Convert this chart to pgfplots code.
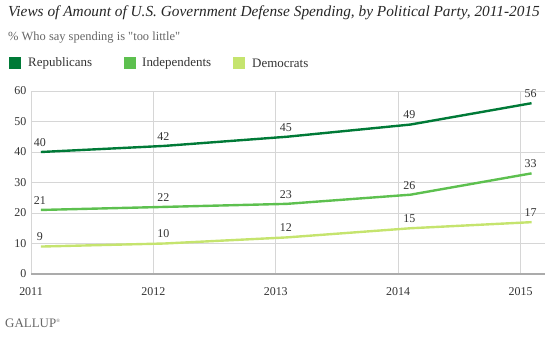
\documentclass[border=0pt]{standalone}
\usepackage{pgfplots}
\pgfplotsset{compat=1.18}
\usepackage{fontspec}
\setmainfont{Liberation Serif}
\newfontfamily\qf{Liberation Serif}[Ligatures=Common]
\definecolor{rep}{HTML}{007A37}
\definecolor{ind}{HTML}{5DC04F}
\definecolor{dem}{HTML}{C5E46E}
\definecolor{gridc}{HTML}{D6D6D6}
\definecolor{txt}{HTML}{333333}
\begin{document}
\begin{tikzpicture}[x=1bp,y=1bp]
\useasboundingbox (0,0) rectangle (552,336);
\begin{axis}[
  at={(31bp,62bp)}, anchor=south west,
  scale only axis, width=514bp, height=183bp,
  xmin=2011, xmax=2015.2, ymin=0, ymax=60,
  xtick={2011,2012,2013,2014,2015},
  ytick={0,10,20,30,40,50,60},
  grid=major, major grid style={gridc, line width=0.8pt},
  axis x line=bottom, axis y line=left,
  y axis line style={draw=none},
  x axis line style={draw=gridc!80!black, line width=1.6pt, -},
  xtick style={draw=none}, ytick style={draw=none},
  x tick label style={font=\fontsize{12}{14}\selectfont, text=txt, yshift=-8bp},
  y tick label style={font=\fontsize{12}{14}\selectfont, text=txt, xshift=1bp},
  xticklabel={\pgfmathprintnumber[1000 sep=]{\tick}},
  /pgf/number format/assume math mode=true,
  clip=false,
  every axis plot/.append style={line width=2.4pt, line join=round, mark=none},
  nodes near coords, point meta=explicit symbolic,
  every node near coord/.append style={font=\fontsize{12}{14}\selectfont, text=txt, anchor=south, xshift=-1bp, yshift=1bp},
]
\addplot[rep] table[meta=v] {
x v y
2011.08 40 40
2012.09 42 42
2013.09 45 45
2014.10 49 49
2015.09 56 56
};
\addplot[ind] table[meta=v] {
x v y
2011.08 21 21
2012.09 22 22
2013.09 23 23
2014.10 26 26
2015.09 33 33
};
\addplot[dem] table[meta=v] {
x v y
2011.08 9 9
2012.09 10 10
2013.09 12 12
2014.10 15 15
2015.09 17 17
};
\end{axis}
\node[anchor=west, inner sep=0pt, font=\fontsize{15.4}{17}\selectfont\itshape, text=black!85] at (8,323) {Views of Amount of U.S. Government Defense Spending, by Political Party, 2011-2015};
\node[anchor=west, inner sep=0pt, font=\qf\fontsize{12.5}{14}\selectfont, text=black!60] at (8,298) {\% Who say spending is "too little"};
\fill[rep] (9,267) rectangle (21,279);
\node[anchor=west, inner sep=0pt, font=\fontsize{13}{14}\selectfont, text=txt] at (28,273) {Republicans};
\fill[ind] (124,267) rectangle (136,279);
\node[anchor=west, inner sep=0pt, font=\fontsize{13}{14}\selectfont, text=txt] at (142,273) {Independents};
\fill[dem] (233,267) rectangle (245,279);
\node[anchor=west, inner sep=0pt, font=\fontsize{13}{14}\selectfont, text=txt] at (252,273) {Democrats};
\node[anchor=west, inner sep=0pt, font=\fontsize{13}{14}\selectfont, text=black!60] at (5,13) {GALLUP\textsuperscript{\tiny ®}};
\end{tikzpicture}
\end{document}
